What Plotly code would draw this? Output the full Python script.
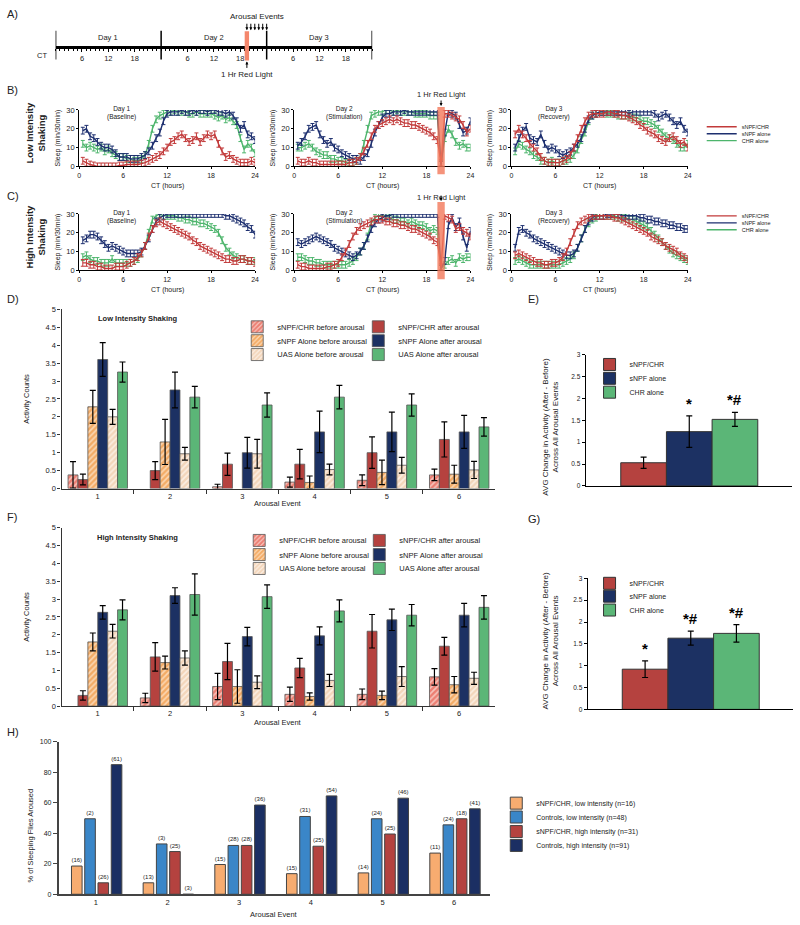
import plotly.graph_objects as go

W, H = 800, 925
FONT = "Liberation Sans, Arial, sans-serif"
TXT = "#222222"


def fx(p):
    return p / W


def fy(p):
    return 1 - p / H


# ====================== DATA ======================
# ---- Panel A (timeline, CT hours over 3 days) ----
day_bounds = [0, 24, 48, 72]
day_labels = ["Day 1", "Day 2", "Day 3"]
day_label_pos = [12, 36, 60]
ct_tick_vals = [6, 12, 18, 30, 36, 42, 54, 60, 66]
ct_tick_text = ["6", "12", "18", "6", "12", "18", "6", "12", "18"]
red_light_a = [43, 44]
arousal_events_a = [43.5, 44.4, 45.3, 46.2, 47.1, 48.0]

# ---- Panels B/C: sleep (min/30min) per half-hour bin ----
ct_bins = [0.5, 1.0, 1.5, 2.0, 2.5, 3.0, 3.5, 4.0, 4.5, 5.0, 5.5, 6.0,
           6.5, 7.0, 7.5, 8.0, 8.5, 9.0, 9.5, 10.0, 10.5, 11.0, 11.5, 12.0,
           12.5, 13.0, 13.5, 14.0, 14.5, 15.0, 15.5, 16.0, 16.5, 17.0, 17.5, 18.0,
           18.5, 19.0, 19.5, 20.0, 20.5, 21.0, 21.5, 22.0, 22.5, 23.0, 23.5, 24.0]
red_light_window = [19.5, 20.5]

low_d1_snpf_chr = [3, 2, 1, 0.5, 0, 0, 0, 0, 0, 0, 0.5, 0.5,
                   1, 1, 1, 1, 1.5, 2, 3, 4, 5, 6, 8, 10,
                   13, 14, 16, 17, 15, 13, 14, 16, 13, 15, 17, 16,
                   17, 12, 8, 5, 6, 4, 3, 2, 2, 2, 3, 2]
low_d1_snpf_alone = [19, 20, 16, 15, 13, 11, 10, 10, 9, 7, 5, 5,
                     5, 4, 4, 4, 5, 6, 8, 11, 15, 18, 24, 28,
                     29, 29, 29, 30, 29, 29, 30, 29, 30, 30, 29, 30,
                     30, 29, 29, 28, 29, 27, 24, 20, 22, 17, 16, 14]
low_d1_chr_alone = [12, 10, 11, 10, 9, 10, 8, 9, 7, 6, 5, 5,
                    4, 4, 3, 3, 4, 6, 12, 20, 25, 27, 28, 29,
                    29, 30, 29, 29, 29, 28, 28, 29, 28, 28, 28, 28,
                    27, 26, 27, 25, 26, 24, 22, 15, 9, 12, 10, 7]

low_d2_snpf_chr = [3, 2, 2, 3, 2, 2, 1, 1, 1, 1, 1, 1,
                   1, 1, 2, 2, 3, 5, 8, 12, 16, 20, 22, 23,
                   24, 25, 24, 25, 24, 23, 23, 22, 22, 21, 20, 19,
                   18, 16, 14, 2, 28, 28, 27, 26, 25, 22, 18, 20]
low_d2_snpf_alone = [11, 13, 16, 20, 21, 22, 17, 14, 12, 13, 10, 9,
                     7, 6, 5, 4, 4, 3, 5, 7, 12, 18, 22, 26,
                     28, 28, 29, 29, 29, 30, 29, 29, 29, 29, 29, 29,
                     29, 29, 29, 1, 18, 29, 28, 27, 22, 18, 19, 24]
low_d2_chr_alone = [10, 10, 11, 12, 10, 8, 7, 6, 6, 4, 4, 3,
                    3, 2, 2, 2, 3, 5, 12, 20, 27, 28, 29, 29,
                    30, 30, 29, 30, 29, 29, 29, 29, 28, 28, 28, 28,
                    27, 27, 27, 1, 15, 20, 17, 13, 11, 12, 10, 10]

low_d3_snpf_chr = [17, 20, 17, 15, 12, 10, 8, 5, 3, 2, 2, 2,
                   2, 3, 4, 6, 10, 15, 20, 24, 27, 28, 28, 28,
                   28, 29, 29, 28, 28, 27, 27, 26, 25, 24, 22, 21,
                   19, 18, 17, 15, 14, 13, 15, 16, 14, 12, 13, 10]
low_d3_snpf_alone = [10, 15, 19, 21, 15, 14, 13, 17, 12, 9, 10, 9,
                     7, 6, 7, 8, 10, 12, 15, 20, 25, 27, 28, 29,
                     29, 29, 29, 29, 29, 29, 29, 28, 29, 29, 29, 29,
                     29, 29, 28, 26, 27, 28, 26, 24, 22, 24, 20, 18]
low_d3_chr_alone = [8, 12, 11, 9, 8, 6, 5, 3, 3, 2, 3, 2,
                    2, 3, 3, 4, 6, 9, 14, 18, 24, 27, 28, 29,
                    29, 28, 28, 28, 27, 27, 27, 27, 26, 26, 25, 24,
                    24, 23, 22, 20, 18, 16, 15, 14, 12, 10, 10, 12]

high_d1_snpf_chr = [4, 4, 3, 3, 2, 2, 1, 1, 1, 2, 2, 2,
                    3, 4, 5, 7, 9, 13, 18, 22, 25, 26, 25, 24,
                    23, 22, 21, 20, 19, 18, 16, 15, 13, 12, 11, 10,
                    9, 8, 7, 6, 6, 5, 5, 6, 6, 5, 5, 4]
high_d1_snpf_alone = [16, 17, 19, 19, 18, 16, 14, 12, 13, 12, 11, 10,
                      9, 9, 9, 9, 10, 13, 17, 22, 26, 28, 29, 30,
                      30, 30, 30, 30, 30, 30, 30, 30, 30, 30, 30, 30,
                      30, 30, 30, 29, 29, 28, 27, 26, 25, 23, 22, 19]
high_d1_chr_alone = [7, 8, 6, 5, 5, 4, 4, 4, 6, 4, 4, 4,
                     4, 4, 5, 6, 9, 13, 20, 27, 29, 30, 29, 29,
                     29, 29, 28, 28, 27, 27, 26, 26, 25, 25, 24, 23,
                     22, 20, 16, 12, 10, 8, 7, 6, 6, 5, 5, 5]

high_d2_snpf_chr = [3, 2, 2, 1, 1, 1, 1, 1, 2, 2, 3, 4,
                    7, 10, 14, 18, 21, 23, 24, 25, 26, 27, 27, 27,
                    26, 26, 25, 25, 24, 24, 23, 22, 22, 21, 20, 19,
                    18, 16, 15, 2, 29, 28, 27, 22, 23, 21, 20, 18]
high_d2_snpf_alone = [15, 14, 15, 16, 17, 18, 17, 16, 15, 14, 12, 11,
                      10, 9, 8, 7, 8, 10, 13, 17, 22, 25, 27, 28,
                      29, 29, 30, 30, 30, 30, 30, 30, 30, 30, 30, 30,
                      30, 30, 30, 1, 5, 24, 28, 23, 26, 18, 12, 21]
high_d2_chr_alone = [7, 7, 6, 5, 5, 4, 4, 3, 3, 3, 3, 3,
                     3, 3, 4, 5, 7, 10, 13, 18, 25, 28, 29, 29,
                     29, 28, 27, 27, 26, 26, 25, 26, 25, 24, 24, 23,
                     21, 22, 21, 1, 3, 5, 6, 4, 7, 6, 7, 7]

high_d3_snpf_chr = [8, 9, 8, 7, 6, 5, 4, 4, 3, 3, 4, 4,
                    5, 7, 10, 15, 20, 24, 26, 27, 28, 29, 29, 29,
                    29, 29, 29, 28, 28, 27, 26, 25, 24, 23, 22, 21,
                    20, 18, 17, 16, 15, 13, 12, 11, 10, 8, 7, 6]
high_d3_snpf_alone = [12, 21, 22, 20, 19, 17, 16, 15, 14, 13, 12, 11,
                      10, 9, 8, 8, 9, 12, 17, 22, 26, 28, 29, 29,
                      29, 30, 30, 30, 30, 29, 29, 29, 29, 29, 28, 28,
                      27, 27, 26, 26, 25, 25, 24, 24, 23, 23, 22, 22]
high_d3_chr_alone = [5, 6, 5, 4, 3, 3, 3, 3, 3, 3, 3, 3,
                     3, 4, 5, 6, 8, 12, 17, 22, 25, 27, 28, 29,
                     29, 29, 29, 29, 28, 28, 28, 27, 27, 26, 25, 24,
                     23, 21, 19, 17, 15, 13, 11, 9, 8, 7, 6, 5]

line_series_names = ["sNPF/CHR", "sNPF alone", "CHR alone"]
day_titles = ["Day 1<br>(Baseline)", "Day 2<br>(Stimulation)", "Day 3<br>(Recovery)"]
day_title_x = [5.8, 6.8, 5.8]

# ---- Panels D/F: activity counts before/after each arousal ----
arousal_events = [1, 2, 3, 4, 5, 6]
bar_series_names = ["sNPF/CHR before arousal", "sNPF/CHR after arousal",
                    "sNPF Alone before arousal", "sNPF Alone after arousal",
                    "UAS Alone before arousal", "UAS Alone after arousal"]

low_chr_before = [0.38, None, 0.05, 0.18, 0.23, 0.38]
low_chr_before_err = [0.37, 0, 0.07, 0.14, 0.15, 0.16]
low_chr_after = [0.25, 0.50, 0.68, 0.68, 1.00, 1.37]
low_chr_after_err = [0.15, 0.25, 0.31, 0.41, 0.44, 0.49]
low_snpf_before = [2.28, 1.30, None, 0.17, 0.45, 0.40]
low_snpf_before_err = [0.46, 0.63, 0, 0.18, 0.34, 0.25]
low_snpf_after = [3.60, 2.75, 1.00, 1.58, 1.58, 1.58]
low_snpf_after_err = [0.47, 0.50, 0.43, 0.58, 0.55, 0.46]
low_uas_before = [2.00, 0.97, 0.97, 0.53, 0.65, 0.52]
low_uas_before_err = [0.21, 0.18, 0.40, 0.15, 0.22, 0.24]
low_uas_after = [3.25, 2.55, 2.33, 2.55, 2.33, 1.72]
low_uas_after_err = [0.28, 0.30, 0.34, 0.33, 0.31, 0.26]

high_chr_before = [None, 0.23, 0.55, 0.33, 0.33, 0.82]
high_chr_before_err = [0, 0.13, 0.37, 0.20, 0.15, 0.23]
high_chr_after = [0.30, 1.38, 1.25, 1.07, 2.10, 1.68]
high_chr_after_err = [0.13, 0.40, 0.51, 0.27, 0.47, 0.25]
high_snpf_before = [1.80, 1.22, 0.55, 0.27, 0.30, 0.60]
high_snpf_before_err = [0.25, 0.18, 0.47, 0.10, 0.12, 0.23]
high_snpf_after = [2.63, 3.10, 1.95, 1.97, 2.42, 2.55]
high_snpf_after_err = [0.19, 0.22, 0.26, 0.25, 0.30, 0.33]
high_uas_before = [2.10, 1.35, 0.67, 0.72, 0.83, 0.78]
high_uas_before_err = [0.19, 0.20, 0.18, 0.17, 0.28, 0.17]
high_uas_after = [2.70, 3.13, 3.07, 2.67, 2.55, 2.77]
high_uas_after_err = [0.28, 0.58, 0.33, 0.31, 0.30, 0.33]

# ---- Panels E/G: average change in activity ----
avg_groups = ["sNPF/CHR", "sNPF alone", "CHR alone"]
low_avg_change = [0.53, 1.24, 1.52]
low_avg_change_err = [0.13, 0.36, 0.16]
low_avg_marks = ["", "*", "*#"]
high_avg_change = [0.92, 1.63, 1.74]
high_avg_change_err = [0.19, 0.16, 0.20]
high_avg_marks = ["*", "*#", "*#"]

# ---- Panel H: % of sleeping flies aroused ----
h_series_names = ["sNPF/CHR, low intensity (n=16)", "Controls, low intensity (n=48)",
                  "sNPF/CHR, high intensity (n=31)", "Controls, high intensity (n=91)"]
h_low_snpf = [18.5, 7.5, 19.5, 13.5, 14.0, 27.0]
h_low_snpf_n = ["(16)", "(13)", "(15)", "(15)", "(14)", "(11)"]
h_low_ctrl = [49.5, 33.0, 32.0, 51.0, 49.5, 45.5]
h_low_ctrl_n = ["(2)", "(3)", "(28)", "(31)", "(24)", "(24)"]
h_high_snpf = [7.5, 28.0, 32.0, 31.5, 39.5, 49.5]
h_high_snpf_n = ["(26)", "(25)", "(28)", "(25)", "(25)", "(18)"]
h_high_ctrl = [85.0, 0.0, 58.5, 64.5, 63.0, 56.0]
h_high_ctrl_n = ["(61)", "(3)", "(36)", "(54)", "(46)", "(41)"]

# ====================== STYLE ======================
LINE_COLORS = ["#C23A3A", "#1D2F6F", "#4DB56C"]
RED = "#B5423F"
NAVY = "#1C3163"
GREEN = "#5BB677"
HATCH_RED = ("#E23A2A", "#F6C2BA")
HATCH_ORANGE = ("#EC8017", "#FBD7B3")
HATCH_BEIGE = ("#EBBE94", "#FBEEE2")
H_COLORS = ["#F7AC70", "#3A86C8", "#B4423F", "#1B2F63"]
RED_LIGHT = "rgba(242,120,90,0.80)"

fig = go.Figure()
layout = dict(
    width=W, height=H, margin=dict(l=0, r=0, t=0, b=0),
    paper_bgcolor="white", plot_bgcolor="white",
    font=dict(family=FONT, color=TXT, size=8),
    showlegend=True,
    annotations=[], shapes=[],
)
ann = layout["annotations"]
shp = layout["shapes"]


def axname(n, letter):
    return f"{letter}axis" if n == 1 else f"{letter}axis{n}"


def ref(n, letter):
    return letter if n == 1 else f"{letter}{n}"


def add_axes(n, x0, x1, ytop, ybot, xopts, yopts):
    xd = dict(domain=[fx(x0), fx(x1)], anchor=ref(n, "y"), showgrid=False, zeroline=False)
    xd.update(xopts)
    yd = dict(domain=[fy(ybot), fy(ytop)], anchor=ref(n, "x"), showgrid=False, zeroline=False)
    yd.update(yopts)
    layout[axname(n, "x")] = xd
    layout[axname(n, "y")] = yd


def text(x, y, s, size=8, xref="paper", yref="paper", angle=0, xanchor="center",
         yanchor="middle", bold=False, color=TXT):
    if bold:
        s = f"<b>{s}</b>"
    ann.append(dict(x=x, y=y, xref=xref, yref=yref, text=s, showarrow=False,
                    textangle=angle, xanchor=xanchor, yanchor=yanchor,
                    font=dict(size=size, family=FONT, color=color)))


def legend_row(name, text_x_px, y_px, size):
    layout[name] = dict(x=fx(text_x_px - 40), y=fy(y_px), xanchor="left", yanchor="middle",
                        bgcolor="rgba(0,0,0,0)", borderwidth=0, itemwidth=30,
                        font=dict(size=size, family=FONT, color=TXT))


def hatch(colors):
    fg, bg = colors
    return dict(color=bg, pattern=dict(shape="/", fgcolor=fg, bgcolor=bg,
                                       size=4, solidity=0.6))


# ---------------- Panel A ----------------
add_axes(1, 54, 373, 30, 42.5,
         dict(range=[0, 72], showline=True, linecolor="black", linewidth=2.5,
              tickvals=ct_tick_vals, ticktext=ct_tick_text, ticks="outside", ticklen=3,
              tickcolor="black", tickfont=dict(size=7.5),
              minor=dict(dtick=1, tick0=0, ticks="outside", ticklen=2.5, tickcolor="black", tickwidth=0.8)),
         dict(range=[0, 1], visible=False))
for b in day_bounds:
    shp.append(dict(type="line", xref="x", yref="paper", x0=b, x1=b, y0=fy(56), y1=fy(27),
                    line=dict(color="black", width=1.5)))
shp.append(dict(type="rect", xref="x", yref="paper", x0=red_light_a[0], x1=red_light_a[1],
                y0=fy(57), y1=fy(27.5), fillcolor="#F4876C", line=dict(width=0), layer="above"))
for lbl, pos in zip(day_labels, day_label_pos):
    text(pos, fy(34), lbl, 7.5, xref="x")
for e in arousal_events_a:
    ann.append(dict(x=e, y=fy(26.5), xref="x", yref="paper", text="", showarrow=True,
                    ax=0, ay=-8, arrowhead=2, arrowsize=0.6, arrowwidth=1, arrowcolor="black"))
ann.append(dict(x=(red_light_a[0] + red_light_a[1]) / 2, y=fy(58), xref="x", yref="paper", text="",
                showarrow=True, ax=0, ay=8, arrowhead=2, arrowsize=0.6, arrowwidth=1, arrowcolor="black"))
text(fx(257), fy(13), "Arousal Events", 8)
text(fx(247), fy(71), "1 Hr Red Light", 8)
text(fx(40), fy(52), "CT", 7.5)
text(fx(3), fy(10), "A)", 11, xanchor="left")

# ---------------- Panels B / C ----------------
line_panels = [
    (2, 77.7, 255, 107, 164, [low_d1_snpf_chr, low_d1_snpf_alone, low_d1_chr_alone], 0),
    (3, 294.3, 472, 107, 164, [low_d2_snpf_chr, low_d2_snpf_alone, low_d2_chr_alone], 1),
    (4, 513.3, 691, 107, 164, [low_d3_snpf_chr, low_d3_snpf_alone, low_d3_chr_alone], 2),
    (5, 77.7, 255, 212, 269, [high_d1_snpf_chr, high_d1_snpf_alone, high_d1_chr_alone], 0),
    (6, 294.3, 472, 212, 269, [high_d2_snpf_chr, high_d2_snpf_alone, high_d2_chr_alone], 1),
    (7, 513.3, 691, 212, 269, [high_d3_snpf_chr, high_d3_snpf_alone, high_d3_chr_alone], 2),
]
line_legends = {2: ["legend", "legend2", "legend3"], 5: ["legend4", "legend5", "legend6"]}
legend_row("legend", 745, 124, 5.5)
legend_row("legend2", 745, 131, 5.5)
legend_row("legend3", 745, 138, 5.5)
legend_row("legend4", 745, 214, 5.5)
legend_row("legend5", 745, 221, 5.5)
legend_row("legend6", 745, 228, 5.5)

for n, x0, x1, yt, yb, series, day in line_panels:
    add_axes(n, x0, x1, yt, yb,
             dict(range=[0, 24], tickvals=[0, 6, 12, 18, 24], showline=True, linecolor="black",
                  linewidth=1, ticks="outside", ticklen=2, tickcolor="black", tickfont=dict(size=7)),
             dict(range=[0, 30], tickvals=[0, 10, 20, 30], showline=True, linecolor="black",
                  linewidth=1, ticks="outside", ticklen=2, tickcolor="black", tickfont=dict(size=7.5)))
    for k in [2, 1, 0]:
        c = LINE_COLORS[k]
        tr = go.Scatter(x=ct_bins, y=series[k], mode="lines", name=line_series_names[k],
                        xaxis=ref(n, "x"), yaxis=ref(n, "y"), cliponaxis=False,
                        line=dict(color=c, width=1.4),
                        error_y=dict(type="constant", value=1.8, color=c, thickness=1, width=2))
        if n in line_legends:
            tr.update(legend=line_legends[n][k], showlegend=True)
        else:
            tr.update(showlegend=False)
        fig.add_trace(tr)
    text(day_title_x[day], 28.2 if n < 5 else 28.6, day_titles[day], 6.5,
         xref=ref(n, "x"), yref=ref(n, "y"))
    text(fx((x0 + x1) / 2), fy(yb + 19.5), "CT (hours)", 7)
    text(fx(x0 - 21), fy((yt + yb) / 2), "Sleep (min/30min)", 7, angle=-90)

for n, ytop, ybot, ytxt in [(3, 104, 172, 91), (6, 200, 278, 195)]:
    shp.append(dict(type="rect", xref=ref(n, "x"), yref="paper",
                    x0=red_light_window[0], x1=red_light_window[1], y0=fy(ybot), y1=fy(ytop),
                    fillcolor=RED_LIGHT, line=dict(width=0), layer="above"))
    ann.append(dict(x=sum(red_light_window) / 2, y=fy(ytop - 1), xref=ref(n, "x"), yref="paper",
                    text="", showarrow=True, ax=0, ay=-7, arrowhead=2, arrowsize=0.6,
                    arrowwidth=1, arrowcolor="black"))
    text(fx(443), fy(ytxt), "1 Hr Red Light", 7.5)

text(fx(3), fy(87), "B)", 11, xanchor="left")
text(fx(3), fy(194), "C)", 11, xanchor="left")
text(fx(34), fy(130), "Low Intensity<br>Shaking", 9.5, angle=-90, bold=True)
text(fx(34), fy(235), "High Intensity<br>Shaking", 9.5, angle=-90, bold=True)

# ---------------- Panels D / F ----------------
BAR_OFFSETS = [-0.41, -0.273, -0.136, 0.001, 0.138, 0.275]
BAR_WIDTH = 0.137
bar_styles = [hatch(HATCH_RED), dict(color=RED), hatch(HATCH_ORANGE), dict(color=NAVY),
              hatch(HATCH_BEIGE), dict(color=GREEN)]

act_panels = [
    (8, 308.3, 489.3,
     [(low_chr_before, low_chr_before_err), (low_chr_after, low_chr_after_err),
      (low_snpf_before, low_snpf_before_err), (low_snpf_after, low_snpf_after_err),
      (low_uas_before, low_uas_before_err), (low_uas_after, low_uas_after_err)],
     ["legend7", "legend8", "legend9", "legend10", "legend11", "legend12"],
     (277, 399), (326, 340, 354),
     "Low Intensity Shaking", 318, 298, "D)", 504),
    (10, 529, 709,
     [(high_chr_before, high_chr_before_err), (high_chr_after, high_chr_after_err),
      (high_snpf_before, high_snpf_before_err), (high_snpf_after, high_snpf_after_err),
      (high_uas_before, high_uas_before_err), (high_uas_after, high_uas_after_err)],
     ["legend16", "legend17", "legend18", "legend19", "legend20", "legend21"],
     (279, 400), (541.7, 556, 570),
     "High Intensity Shaking", 539, 518, "F)", 725.7),
]
for n, yt, yb, series, legs, cols, rows, title, ty, ly, letter, xt_y in act_panels:
    add_axes(n, 60, 497, yt, yb,
             dict(range=[0.5, 6.5], tickvals=arousal_events, ticktext=[str(a) for a in arousal_events],
                  ticks="", showline=True, linecolor="#333", linewidth=1.2, tickfont=dict(size=7.5),
                  minor=dict(tickvals=[1.5, 2.5, 3.5, 4.5, 5.5], ticks="outside", ticklen=4,
                             tickcolor="#333", tickwidth=1)),
             dict(range=[0, 5], dtick=0.5, showline=True, linecolor="#333", linewidth=1.2,
                  ticks="outside", ticklen=3, tickcolor="#333", tickfont=dict(size=7.5)))
    for k in range(6):
        vals, err = series[k]
        fig.add_trace(go.Bar(x=arousal_events, y=vals, name=bar_series_names[k],
                             xaxis=ref(n, "x"), yaxis=ref(n, "y"),
                             offset=BAR_OFFSETS[k], width=BAR_WIDTH,
                             marker=dict(line=dict(color="#555", width=0.8), **bar_styles[k]),
                             error_y=dict(type="data", array=err, color="black", thickness=1.2, width=3),
                             legend=legs[k]))
        # before-series in column 1, after-series in column 2
        legend_row(legs[k], cols[k % 2], rows[k // 2], 7.5)
    text(fx(137), fy(ty), title, 7.5, bold=True)
    text(fx(3), fy(ly), letter, 11, xanchor="left")
    text(fx(25), fy((yt + yb) / 2), "Activity Counts", 7.5, angle=-90)
    text(fx(278), fy(xt_y), "Arousal Event", 7.5)

# ---------------- Panels E / G ----------------
avg_panels = [
    (9, 588, 796, 354, 486.7, [-1.27, 3.25], low_avg_change, low_avg_change_err, low_avg_marks,
     ["legend13", "legend14", "legend15"], [364, 378, 392], "E)", 298, 427),
    (11, 590, 797, 580, 712.3, [-1.26, 3.24], high_avg_change, high_avg_change_err, high_avg_marks,
     ["legend22", "legend23", "legend24"], [585, 598, 612], "G)", 520, 643),
]
avg_colors = [RED, NAVY, GREEN]
for n, x0, x1, yt, yb, xr, vals, err, marks, legs, legy, letter, ly, tcy in avg_panels:
    add_axes(n, x0, x1, yt, yb,
             dict(range=xr, showticklabels=False, ticks="", showline=True, linecolor="black", linewidth=1.2),
             dict(range=[0, 3], dtick=0.5, showline=True, linecolor="black", linewidth=1,
                  ticks="outside", ticklen=3, tickcolor="black", tickfont=dict(size=6.5)))
    for k in range(3):
        fig.add_trace(go.Bar(x=[k], y=[vals[k]], name=avg_groups[k],
                             xaxis=ref(n, "x"), yaxis=ref(n, "y"), offset=-0.5, width=1,
                             marker=dict(color=avg_colors[k], line=dict(color="#333", width=1)),
                             error_y=dict(type="data", array=[err[k]], color="black", thickness=1.2, width=3),
                             legend=legs[k]))
        legend_row(legs[k], 632, legy[k], 7)
        if marks[k]:
            ann.append(dict(x=k, y=vals[k] + err[k], xref=ref(n, "x"), yref=ref(n, "y"),
                            text=f"<b>{marks[k]}</b>", showarrow=False, yanchor="bottom", yshift=2,
                            font=dict(size=15, family=FONT, color="black")))
    text(fx(528), fy(ly), letter, 11, xanchor="left")
    text(fx(553), fy(tcy), "AVG Change in Activity (After - Before)<br>Across All Arousal Events",
         8, angle=-90)

# ---------------- Panel H ----------------
H_OFFSETS = [-0.34, -0.155, 0.03, 0.215]
H_WIDTH = 0.148
add_axes(12, 57, 491.7, 745, 899,
         dict(range=[0.48, 6.5], tickvals=arousal_events, ticktext=[str(a) for a in arousal_events],
              ticks="", showline=True, linecolor="#444", linewidth=1.5, tickfont=dict(size=7.5)),
         dict(range=[0, 100], dtick=20, showline=True, linecolor="#444", linewidth=1.5,
              ticks="outside", ticklen=4, tickcolor="#444", tickfont=dict(size=7)))
h_series = [(h_low_snpf, h_low_snpf_n), (h_low_ctrl, h_low_ctrl_n),
            (h_high_snpf, h_high_snpf_n), (h_high_ctrl, h_high_ctrl_n)]
h_legs = ["legend25", "legend26", "legend27", "legend28"]
h_legy = [807, 821, 835.7, 849.7]
for k in range(4):
    vals, labels = h_series[k]
    fig.add_trace(go.Bar(x=arousal_events, y=vals, name=h_series_names[k],
                         xaxis="x12", yaxis="y12", offset=H_OFFSETS[k], width=H_WIDTH,
                         marker=dict(color=H_COLORS[k], line=dict(color="#444", width=1)),
                         text=labels, textposition="outside", constraintext="none", cliponaxis=False,
                         textfont=dict(size=6, family=FONT, color=TXT), legend=h_legs[k]))
    legend_row(h_legs[k], 538, h_legy[k], 7)
text(fx(3), fy(735), "H)", 11, xanchor="left")
text(fx(29), fy(840), "% of Sleeping Flies Aroused", 7.5, angle=-90)
text(fx(274), fy(919), "Arousal Event", 7.5)

fig.update_layout(**layout)
fig.write_html("out.html", config={"displayModeBar": False},
               post_script="document.body.style.margin='0';")
